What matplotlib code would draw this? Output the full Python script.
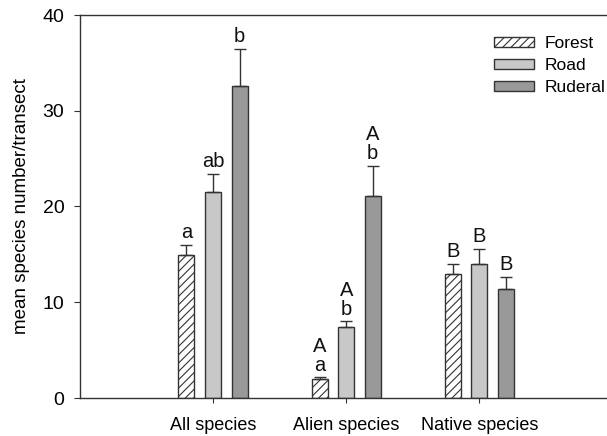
import matplotlib
matplotlib.use("Agg")
import matplotlib.pyplot as plt
import numpy as np

categories = ["All species", "Alien species", "Native species"]
series = ["Forest", "Road", "Ruderal"]
forest = [14.9, 2.0, 12.9]
road = [21.5, 7.4, 14.0]
ruderal = [32.6, 21.1, 11.4]
forest_err = [1.1, 0.15, 1.1]
road_err = [1.9, 0.6, 1.6]
ruderal_err = [3.9, 3.1, 1.2]
letters_forest = ["a", "A\na", "B"]
letters_road = ["ab", "A\nb", "B"]
letters_ruderal = ["b", "A\nb", "B"]

plt.rcParams['font.family'] = ['Liberation Sans', 'DejaVu Sans']
plt.rcParams['hatch.linewidth'] = 0.8

fig = plt.figure(figsize=(6.07, 4.36), dpi=100)
ax = fig.add_axes([80/607, 38/436, 527/607, 383/436])

x = np.arange(len(categories))
w = 0.12
step = 0.2
edge = "#333333"
vals = [forest, road, ruderal]
errs = [forest_err, road_err, ruderal_err]
lets = [letters_forest, letters_road, letters_ruderal]
faces = ["white", "#c8c8c8", "#999999"]
hatches = ["////", None, None]
for i in range(3):
    pos = x + (i - 1) * step
    ax.bar(pos, vals[i], width=w, color=faces[i], edgecolor=edge, linewidth=1.0,
           hatch=hatches[i], label=series[i], zorder=2)
    ax.errorbar(pos, vals[i], yerr=[np.zeros(3), errs[i]], fmt="none",
                ecolor=edge, elinewidth=1.0, capsize=4, capthick=1.0, zorder=3)
    for p, v, e, t in zip(pos, vals[i], errs[i], lets[i]):
        ax.text(p, v + e + 0.3, t, ha="center", va="bottom", fontsize=14.5,
                color="#111111", linespacing=1.0)

ax.set_xlim(-1.0, 2.96)
ax.set_ylim(0, 40)
ax.set_xticks(x)
ax.set_xticklabels(categories)
ax.set_yticks([0, 10, 20, 30, 40])
ax.tick_params(axis="y", direction="out", length=4.3, color="#333333",
               labelsize=14, pad=7)
ax.tick_params(axis="x", direction="out", length=3.6, color="#333333",
               labelsize=13, pad=10)
ax.set_ylabel("mean species number/transect", fontsize=13.5, labelpad=9)
for s in ["left", "bottom", "top"]:
    ax.spines[s].set_color("#333333")
    ax.spines[s].set_linewidth(1.0)
ax.spines["right"].set_visible(False)

leg = ax.legend(loc="upper right", bbox_to_anchor=(1.016, 0.972), frameon=False,
                fontsize=12.5, handlelength=2.3, handleheight=0.46,
                labelspacing=0.4, handletextpad=0.6, borderaxespad=0.2)

fig.savefig("out.png", dpi=100)
